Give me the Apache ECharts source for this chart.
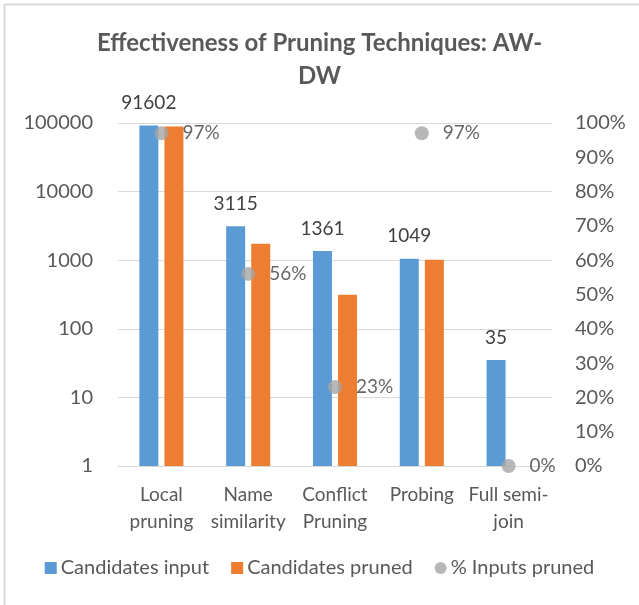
<!DOCTYPE html>
<html>
<head>
<meta charset="utf-8">
<script src="https://cdn.jsdelivr.net/npm/echarts@6/dist/echarts.min.js"></script>
<style>html,body{margin:0;padding:0;background:#fff}#c{width:639px;height:605px}</style>
</head>
<body>
<div id="c"></div>
<script>
const categories = ['Local\npruning', 'Name\nsimilarity', 'Conflict\nPruning', 'Probing', 'Full semi-\njoin'];
const candidatesInput = [91602, 3115, 1361, 1049, 35];
const candidatesPruned = [88854, 1744, 313, 1017, null];
const pctPruned = [0.97, 0.56, 0.23, 0.97, 0];
const leftTicks = [1, 10, 100, 1000, 10000, 100000];

const FONT = 'Lato';
const TXT = '#595959';
const chart = echarts.init(document.getElementById('c'), null, {renderer: 'canvas'});
chart.setOption({
  animation: false,
  textStyle: {fontFamily: FONT},
  graphic: [
    {type: 'line', shape: {x1: 4.5, y1: 4, x2: 4.5, y2: 605}, style: {stroke: '#d9d9d9', lineWidth: 2}},
    {type: 'line', shape: {x1: 4, y1: 4.5, x2: 639, y2: 4.5}, style: {stroke: '#d9d9d9', lineWidth: 2}}
  ],
  title: {
    text: 'Effectiveness of Pruning Techniques: AW-\nDW',
    left: 'center',
    top: 22,
    textStyle: {fontFamily: FONT, fontSize: 24, fontWeight: 'bold', color: TXT, lineHeight: 33}
  },
  legend: {
    bottom: 22,
    left: 'center',
    itemWidth: 12,
    itemHeight: 12,
    itemGap: 22,
    textStyle: {fontFamily: FONT, fontSize: 20, color: TXT, padding: [0, 0, 0, -1]},
    data: [
      {name: 'Candidates input', icon: 'rect'},
      {name: 'Candidates pruned', icon: 'rect'},
      {name: '% Inputs pruned', icon: 'circle'}
    ]
  },
  grid: {left: 118, right: 87, top: 123, bottom: 139},
  xAxis: {
    type: 'category',
    data: categories,
    axisLine: {show: true, lineStyle: {color: '#d9d9d9', width: 1}},
    axisTick: {show: false},
    axisLabel: {color: TXT, fontFamily: FONT, fontSize: 19, lineHeight: 27, margin: 15, interval: 0}
  },
  yAxis: [
    {
      type: 'log', logBase: 10, min: 1, max: 100000,
      axisLine: {show: false}, axisTick: {show: false},
      splitLine: {lineStyle: {color: '#d9d9d9', width: 1}},
      axisLabel: {color: TXT, fontFamily: FONT, fontSize: 20, margin: 25,
        formatter: v => String(Math.round(v))}
    },
    {
      type: 'value', min: 0, max: 1, interval: 0.1,
      axisLine: {show: false}, axisTick: {show: false},
      splitLine: {show: false},
      axisLabel: {color: TXT, fontFamily: FONT, fontSize: 20, margin: 23,
        formatter: v => Math.round(v * 100) + '%'}
    }
  ],
  series: [
    {
      name: 'Candidates input', type: 'bar', yAxisIndex: 0,
      data: candidatesInput, barWidth: 19, barGap: '32%',
      itemStyle: {color: '#5b9bd5'},
      label: {show: true, position: 'top', distance: 13, color: '#404040', fontFamily: FONT, fontSize: 19}
    },
    {
      name: 'Candidates pruned', type: 'bar', yAxisIndex: 0,
      data: candidatesPruned, barWidth: 19,
      itemStyle: {color: '#ed7d31'}
    },
    {
      name: '% Inputs pruned', type: 'scatter', yAxisIndex: 1,
      data: pctPruned, symbol: 'circle', symbolSize: 14,
      itemStyle: {color: '#a5a5a5'},
      label: {show: true, position: 'right', distance: 14, color: '#404040', fontFamily: FONT, fontSize: 19,
        formatter: p => Math.round(p.value * 100) + '%'},
      z: 5
    }
  ]
});
</script>
</body>
</html>
